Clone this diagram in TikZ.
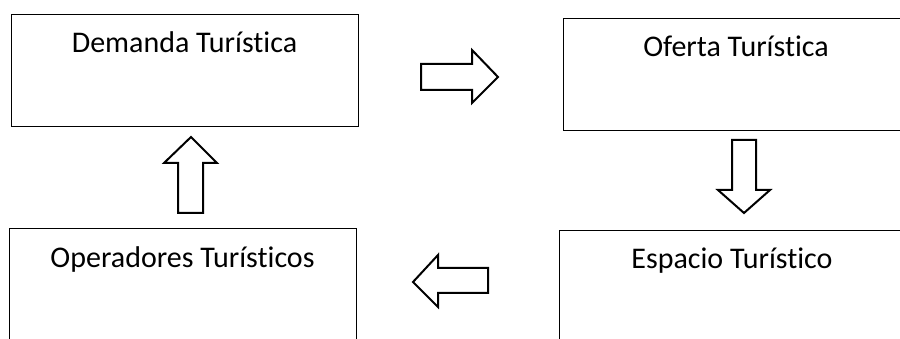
\documentclass[tikz,border=0pt]{standalone}
\usepackage{fontspec}
\setmainfont{Carlito}[RawFeature={-liga;-clig}]
\begin{document}
\begin{tikzpicture}[x=1pt,y=-1pt,
  box/.style={draw=black, line width=1.2pt, minimum width=347pt, minimum height=112pt, anchor=north west, inner sep=0pt},
  lbl/.style={font=\fontsize{30}{35}\selectfont, anchor=base, inner sep=0pt},
  blockarrow/.style={draw=black, line width=2pt, fill=white, line join=miter}]
\useasboundingbox (0,0) rectangle (900,339);
\clip (0,0) rectangle (900,339);
\fill[white] (0,0) rectangle (900,339);
% boxes
\node[box] (dem) at (11,14) {};
\node[box] (ofe) at (563,18) {};
\node[box] (ope) at (9,228) {};
\node[box] (esp) at (559,230) {};
% labels
\node[lbl] (demt) at (184.5,53) {Demanda Turística};
\node[lbl] (ofet) at (736,57) {Oferta Turística};
\node[lbl] (opet) at (182.5,268) {Operadores Turísticos};
\node[lbl] (espt) at (732,269) {Espacio Turístico};
% block arrows
\draw[blockarrow] (421,64) -- (472,64) -- (472,50) -- (498,77) -- (472,103) -- (472,90) -- (421,90) -- cycle;
\draw[blockarrow] (732,140) -- (756,140) -- (756,190) -- (770,190) -- (744,213) -- (718,190) -- (732,190) -- cycle;
\draw[blockarrow] (488,268) -- (438,268) -- (438,255) -- (413,282) -- (438,307) -- (438,293) -- (488,293) -- cycle;
\draw[blockarrow] (178,213) -- (203,213) -- (203,163) -- (217,163) -- (191,137) -- (164,163) -- (178,163) -- cycle;
\end{tikzpicture}
\end{document}
